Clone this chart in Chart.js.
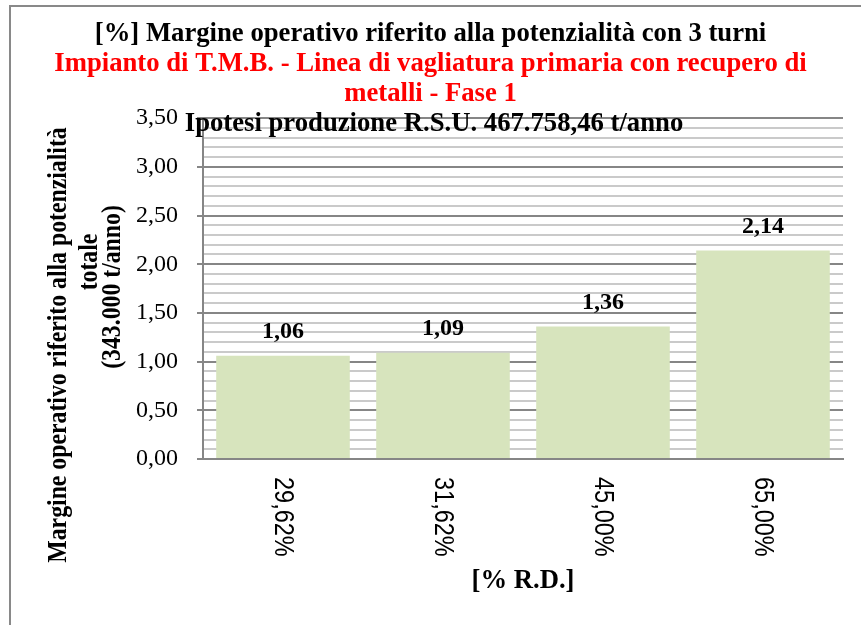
<!DOCTYPE html>
<html>
<head>
<meta charset="utf-8">
<script src="https://cdn.jsdelivr.net/npm/chart.js@4"></script>
<style>
  body { margin: 0; background: #ffffff; }
  #wrap { width: 861px; height: 625px; }
</style>
</head>
<body>
<div id="wrap"><canvas id="chartCanvas" width="861" height="625"></canvas></div>
<script>
// Chart data
const categories = ['29,62%', '31,62%', '45,00%', '65,00%'];
const margins = [1.06, 1.09, 1.36, 2.14];

// Texts
const titleLine = '[%] Margine operativo riferito alla potenzialità con 3 turni';
const subtitleLines = ['Impianto di T.M.B. - Linea di vagliatura primaria con recupero di', 'metalli - Fase 1'];
const noteText = 'Ipotesi produzione R.S.U. 467.758,46 t/anno';
const yTitleLines = ['Margine operativo riferito alla potenzialità', 'totale', '(343.000 t/anno)'];
const xTitle = '[% R.D.]';

const serif = "'Liberation Serif', 'Times New Roman', serif";
const sans = "'Liberation Sans', Arial, sans-serif";

// Helper to write numbers with a decimal comma
function formatComma(value) {
  return value.toFixed(2).replace('.', ',');
}

function isMajor(value) {
  return Math.round(value * 10) % 5 === 0;
}

// Grey frame around the chart
const framePlugin = {
  id: 'frame',
  beforeDraw(chart) {
    const ctx = chart.ctx;
    ctx.save();
    ctx.strokeStyle = '#898989';
    ctx.lineWidth = 2;
    ctx.strokeRect(10, 6, 1000, 1000);
    ctx.restore();
  }
};

// Extra texts: note, y title, category labels, value labels
const textPlugin = {
  id: 'texts',
  afterDraw(chart) {
    const ctx = chart.ctx;
    const xScale = chart.scales.x;
    ctx.save();
    ctx.fillStyle = '#000000';

    // note over the top of the plot
    ctx.font = `bold 26.7px ${serif}`;
    ctx.textAlign = 'center';
    ctx.textBaseline = 'alphabetic';
    ctx.fillText(noteText, 434, 131);

    // value labels above bars
    ctx.font = `bold 24px ${serif}`;
    const meta = chart.getDatasetMeta(0);
    meta.data.forEach((bar, i) => {
      ctx.fillText(formatComma(margins[i]), bar.x, bar.y - 18);
    });

    // category labels, rotated clockwise (slightly condensed along the text)
    ctx.font = `27px ${sans}`;
    ctx.textAlign = 'left';
    ctx.textBaseline = 'middle';
    categories.forEach((label, i) => {
      const x = xScale.getPixelForValue(i);
      ctx.save();
      ctx.translate(x - 1, 477);
      ctx.rotate(Math.PI / 2);
      ctx.scale(0.87, 1);
      ctx.fillText(label, 0, 0);
      ctx.restore();
    });

    // y axis title, three lines
    ctx.font = `bold 26.7px ${serif}`;
    ctx.textAlign = 'center';
    const yTitlePos = [[59, 345], [90, 262], [113, 287]];
    yTitleLines.forEach((line, i) => {
      ctx.save();
      ctx.translate(yTitlePos[i][0], yTitlePos[i][1]);
      ctx.rotate(-Math.PI / 2);
      ctx.scale(0.89, 1);
      ctx.fillText(line, 0, 0);
      ctx.restore();
    });
    ctx.restore();
  }
};

const chartConfig = {
  type: 'bar',
  data: {
    labels: categories,
    datasets: [
      {
        label: 'Margine operativo',
        data: margins,
        backgroundColor: '#d7e4bd',
        borderWidth: 0,
        categoryPercentage: 1,
        barPercentage: 0.835
      }
    ]
  },
  options: {
    responsive: false,
    animation: false,
    layout: {
      padding: { left: 18, right: 18, top: 0, bottom: 0 }
    },
    plugins: {
      legend: { display: false },
      tooltip: { enabled: false },
      title: {
        display: true,
        text: titleLine,
        color: '#000000',
        font: { family: serif, size: 26.7, weight: 'bold', lineHeight: 1.125 },
        padding: { top: 19, bottom: 0 }
      },
      subtitle: {
        display: true,
        text: subtitleLines,
        color: '#ff0000',
        font: { family: serif, size: 26.7, weight: 'bold', lineHeight: 1.125 },
        padding: { top: 0, bottom: 9 }
      }
    },
    scales: {
      x: {
        grid: { display: false },
        border: { color: '#868686', width: 2 },
        ticks: { display: false },
        title: {
          display: true,
          text: xTitle,
          color: '#000000',
          font: { family: serif, size: 26.7, weight: 'bold', lineHeight: 1.2 },
          padding: { top: 0, bottom: 28 }
        },
        afterFit(scale) {
          scale.height = 166;
        }
      },
      y: {
        min: 0,
        max: 3.5,
        ticks: {
          stepSize: 0.1,
          autoSkip: false,
          padding: 19,
          color: '#000000',
          font: { family: serif, size: 24 },
          callback: (value) => (isMajor(value) ? formatComma(value) : '')
        },
        grid: {
          lineWidth: 2,
          tickLength: 6,
          color: (ctx) => (ctx.tick && isMajor(ctx.tick.value) ? '#868686' : '#cacaca'),
          tickColor: (ctx) => (ctx.tick && isMajor(ctx.tick.value) ? '#868686' : 'rgba(0,0,0,0)')
        },
        border: { color: '#868686', width: 2 },
        afterFit(scale) {
          scale.width = 185;
        }
      }
    }
  },
  plugins: [framePlugin, textPlugin]
};

const chartCanvas = document.getElementById('chartCanvas');
const marginChart = new Chart(chartCanvas.getContext('2d'), chartConfig);
</script>
</body>
</html>
